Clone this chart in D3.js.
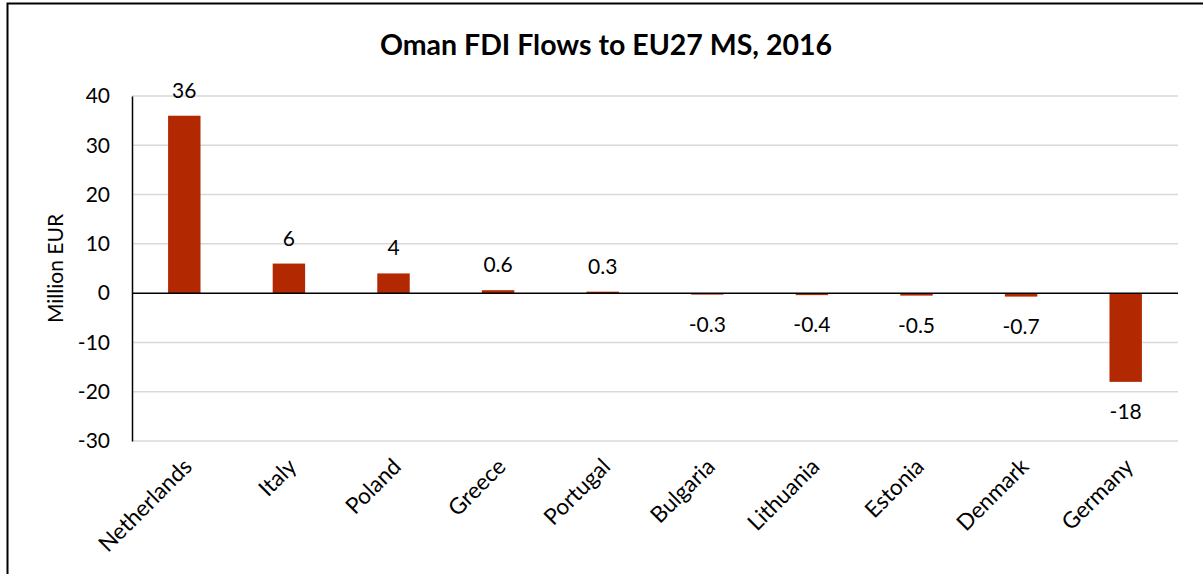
<!DOCTYPE html>
<html>
<head>
<meta charset="utf-8">
<script src="https://cdn.jsdelivr.net/npm/d3@7"></script>
<style>
  body { margin: 0; background: #fff; }
  text { font-family: Lato, "Open Sans", sans-serif; fill: #000; }
</style>
</head>
<body>
<script>
const svgWidth = 1203
const svgHeight = 574

const countries = ["Netherlands", "Italy", "Poland", "Greece", "Portugal",
  "Bulgaria", "Lithuania", "Estonia", "Denmark", "Germany"]
const flows = [36, 6, 4, 0.6, 0.3, -0.3, -0.4, -0.5, -0.7, -18]
const yTicks = [40, 30, 20, 10, 0, -10, -20, -30]

const margin = { top: 96, right: 25, bottom: 133, left: 132 }
const chartWidth = svgWidth - margin.left - margin.right
const chartHeight = svgHeight - margin.top - margin.bottom

const svg = d3.select("body").append("svg")
  .attr("width", svgWidth)
  .attr("height", svgHeight)

// outer frame (right and bottom edges fall outside the picture)
svg.append("rect")
  .attr("x", 7.5).attr("y", 3.5)
  .attr("width", 1210).attr("height", 600)
  .attr("fill", "none").attr("stroke", "#000").attr("stroke-width", 2)

svg.append("text")
  .attr("x", 606).attr("y", 55)
  .attr("text-anchor", "middle")
  .style("font-size", "28.5px").style("font-weight", "bold")
  .text("Oman FDI Flows to EU27 MS, 2016")

const chartG = svg.append("g")
  .attr("transform", `translate(${margin.left}, ${margin.top})`)

const y = d3.scaleLinear().domain([-30, 40]).range([chartHeight, 0])
const x = d3.scaleBand().domain(countries).range([0, chartWidth]).paddingInner(0.69).paddingOuter(0.345)

// gridlines
chartG.append("g").selectAll("line")
  .data(yTicks.filter(d => d !== 0))
  .enter().append("line")
  .attr("x1", 0).attr("x2", chartWidth)
  .attr("y1", d => y(d)).attr("y2", d => y(d))
  .attr("stroke", "#d9d9d9").attr("stroke-width", 1.5)

// y axis
const yAxis = chartG.append("g")
  .call(d3.axisLeft(y).tickValues(yTicks).tickFormat(d => String(d)).tickSize(0).tickPadding(22))
yAxis.select(".domain").attr("stroke", "#000").attr("stroke-width", 1.5)
yAxis.selectAll("text").style("font-size", "21px").style("font-family", "Lato, sans-serif")

chartG.append("text")
  .attr("transform", `translate(${-69}, ${chartHeight / 2}) rotate(-90)`)
  .attr("text-anchor", "middle")
  .style("font-size", "21px")
  .text("Million EUR")

// bars
chartG.selectAll("rect.bar")
  .data(flows)
  .enter().append("rect")
  .attr("class", "bar")
  .attr("x", (d, i) => x(countries[i]))
  .attr("y", d => y(Math.max(0, d)))
  .attr("width", x.bandwidth())
  .attr("height", d => Math.abs(y(d) - y(0)))
  .attr("fill", "#b22800")

// zero line
chartG.append("line")
  .attr("x1", 0).attr("x2", chartWidth)
  .attr("y1", y(0)).attr("y2", y(0))
  .attr("stroke", "#000").attr("stroke-width", 1.5)

// value labels
chartG.selectAll("text.value")
  .data(flows)
  .enter().append("text")
  .attr("class", "value")
  .attr("x", (d, i) => x(countries[i]) + x.bandwidth() / 2)
  .attr("y", d => d >= 0 ? y(d) - 18 : y(d) + 37)
  .attr("text-anchor", "middle")
  .style("font-size", "21px")
  .text(d => d)

// x labels
const xAxis = chartG.append("g")
  .attr("transform", `translate(0, ${chartHeight})`)
  .call(d3.axisBottom(x).tickSize(0).tickPadding(0))
xAxis.select(".domain").remove()
xAxis.selectAll("text")
  .style("font-size", "22.5px").style("font-family", "Lato, sans-serif")
  .attr("text-anchor", "end")
  .attr("dy", 0)
  .attr("transform", "translate(9, 27) rotate(-45)")
</script>
</body>
</html>
